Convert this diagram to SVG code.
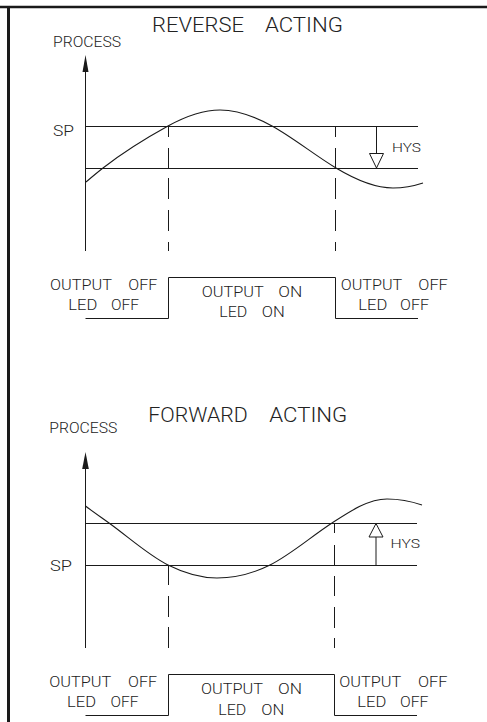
<svg xmlns="http://www.w3.org/2000/svg" width="487" height="722" viewBox="0 0 487 722">
<style>
.ln{stroke:#1a1a1a;stroke-width:1;fill:none}
.cv{stroke:#1a1a1a;stroke-width:1.1;fill:none}
.frame{stroke:#1a1a1a;fill:none}
text{font-family:Roboto,"Liberation Sans",sans-serif;font-weight:300;fill:#222}
.t{font-size:21px}
.p{font-size:14px}
.s{font-size:15.5px}
.h{font-size:12.7px}
.o{font-size:15.5px}
.hollow{fill:#fff;stroke:#1a1a1a;stroke-width:1}
</style>
<defs>
<clipPath id="clipTop"><rect x="85.5" y="90" width="338" height="110"/></clipPath>
</defs>
<rect width="487" height="722" fill="#fff"/>
<g id="frame">
<line class="frame" x1="0" y1="7" x2="487" y2="7" stroke-width="2.5"/>
<line class="frame" x1="8.5" y1="6" x2="8.5" y2="722" stroke-width="3"/>
</g>

<g id="reverse-acting">
<text class="t" x="152" y="32" textLength="92" lengthAdjust="spacingAndGlyphs">REVERSE</text>
<text class="t" x="265" y="32" textLength="78" lengthAdjust="spacingAndGlyphs">ACTING</text>
</g>
<g id="top-axis">
<text class="p" x="53" y="47" textLength="68" lengthAdjust="spacingAndGlyphs">PROCESS</text>
<line class="ln" x1="85.5" y1="66" x2="85.5" y2="251"/>
<polygon points="85.5,55 82.5,72 88.5,72" fill="#1a1a1a"/>
<text class="s" x="53" y="136" textLength="21" lengthAdjust="spacingAndGlyphs">SP</text>
</g>
<g id="top-levels">
<line class="ln" x1="85.5" y1="126.5" x2="418" y2="126.5"/>
<line class="ln" x1="85.5" y1="168.5" x2="418" y2="168.5"/>
</g>
<g id="top-curve">
<path class="cv" d="M86,182 C91.67,177.18 97.33,172.42 103,168 C124.67,151.1 146.33,137.92 168,126 C185.33,116.47 202.67,110 220,110 C237.33,110 254.67,116.47 272,126 C293.33,137.73 314.67,155.2 336,168 C355,179.4 374,188 393,188 C403,188 413,186.3 423,183"/>
</g>
<g id="top-hys">
<line class="ln" x1="376.5" y1="126.5" x2="376.5" y2="154"/>
<polygon class="hollow" points="369.5,153.5 383.5,153.5 376.5,168"/>
<text class="h" x="392" y="151.7" textLength="29" lengthAdjust="spacingAndGlyphs">HYS</text>
</g>
<g id="connectors">
<path class="ln" d="M168.5,126.5V137M168.5,148V168.5M168.5,178V199M168.5,210V231M168.5,242V251"/>
<path class="ln" d="M335.5,126.5V137M335.5,148V168.5M335.5,178V199M335.5,210V231M335.5,242V251"/>
<path class="ln" d="M168.5,565.5V585M168.5,596V617M168.5,627V648"/>
<path class="ln" d="M334.5,523.5V533M334.5,545V565.5M334.5,576V596M334.5,607V628M334.5,638V648"/>
</g>
<g id="top-output">
<path class="ln" d="M85.5,318.5H168.5V277.5H335.5V318.5H418"/>
<text class="o" x="50" y="290" textLength="62" lengthAdjust="spacingAndGlyphs">OUTPUT</text>
<text class="o" x="128.3" y="290" textLength="29" lengthAdjust="spacingAndGlyphs">OFF</text>
<text class="o" x="68.3" y="310" textLength="29" lengthAdjust="spacingAndGlyphs">LED</text>
<text class="o" x="111" y="310" textLength="28" lengthAdjust="spacingAndGlyphs">OFF</text>
<text class="o" x="201.7" y="297.3" textLength="62" lengthAdjust="spacingAndGlyphs">OUTPUT</text>
<text class="o" x="278.3" y="297.3" textLength="24" lengthAdjust="spacingAndGlyphs">ON</text>
<text class="o" x="219.3" y="317.3" textLength="28" lengthAdjust="spacingAndGlyphs">LED</text>
<text class="o" x="261.7" y="317.3" textLength="23" lengthAdjust="spacingAndGlyphs">ON</text>
<text class="o" x="340.7" y="290" textLength="61.5" lengthAdjust="spacingAndGlyphs">OUTPUT</text>
<text class="o" x="418.3" y="290" textLength="29.5" lengthAdjust="spacingAndGlyphs">OFF</text>
<text class="o" x="358.3" y="310" textLength="29" lengthAdjust="spacingAndGlyphs">LED</text>
<text class="o" x="400" y="310" textLength="29" lengthAdjust="spacingAndGlyphs">OFF</text>
</g>

<g id="forward-acting">
<text class="t" x="148.3" y="422.3" textLength="99.5" lengthAdjust="spacingAndGlyphs">FORWARD</text>
<text class="t" x="269.3" y="422.3" textLength="78" lengthAdjust="spacingAndGlyphs">ACTING</text>
</g>
<g id="bottom-axis">
<text class="p" x="49.3" y="433.3" textLength="68" lengthAdjust="spacingAndGlyphs">PROCESS</text>
<line class="ln" x1="85.5" y1="463" x2="85.5" y2="648"/>
<polygon points="85.5,452 82.2,469 88.8,469" fill="#1a1a1a"/>
<text class="s" x="50" y="571" textLength="22" lengthAdjust="spacingAndGlyphs">SP</text>
</g>
<g id="bottom-levels">
<line class="ln" x1="85.5" y1="523.5" x2="417" y2="523.5"/>
<line class="ln" x1="85.5" y1="565.5" x2="417" y2="565.5"/>
</g>
<g id="bottom-curve">
<path class="cv" d="M85.5,506 C93,511.76 101,517.24 109,523 C128.67,537.16 148.33,555.17 168,565 C184.33,573.17 200.67,578 217,578 C234.67,578 252.33,573.83 270,565 C290.67,554.67 311.33,536.43 332,523 C350.33,511.08 368.67,499 387,499 C398.67,499 410.33,501.03 422,505"/>
</g>
<g id="bottom-hys">
<line class="ln" x1="376" y1="537" x2="376" y2="565.5"/>
<polygon class="hollow" points="369,537 383,537 376,523.5"/>
<text class="h" x="390.5" y="548.3" textLength="29.5" lengthAdjust="spacingAndGlyphs">HYS</text>
</g>
<g id="bottom-output">
<path class="ln" d="M85.5,715.5H168.5V674.5H334.5V715.5H417"/>
<text class="o" x="49.3" y="686.7" textLength="62" lengthAdjust="spacingAndGlyphs">OUTPUT</text>
<text class="o" x="128" y="686.7" textLength="29" lengthAdjust="spacingAndGlyphs">OFF</text>
<text class="o" x="67" y="706.7" textLength="29" lengthAdjust="spacingAndGlyphs">LED</text>
<text class="o" x="110.5" y="706.7" textLength="28" lengthAdjust="spacingAndGlyphs">OFF</text>
<text class="o" x="201" y="694.3" textLength="62" lengthAdjust="spacingAndGlyphs">OUTPUT</text>
<text class="o" x="278" y="694.3" textLength="24" lengthAdjust="spacingAndGlyphs">ON</text>
<text class="o" x="218.3" y="715" textLength="28" lengthAdjust="spacingAndGlyphs">LED</text>
<text class="o" x="261.3" y="715" textLength="23" lengthAdjust="spacingAndGlyphs">ON</text>
<text class="o" x="339.3" y="686.7" textLength="62" lengthAdjust="spacingAndGlyphs">OUTPUT</text>
<text class="o" x="418" y="686.7" textLength="29.5" lengthAdjust="spacingAndGlyphs">OFF</text>
<text class="o" x="357.3" y="706.7" textLength="29" lengthAdjust="spacingAndGlyphs">LED</text>
<text class="o" x="400" y="706.7" textLength="28.5" lengthAdjust="spacingAndGlyphs">OFF</text>
</g>
</svg>
